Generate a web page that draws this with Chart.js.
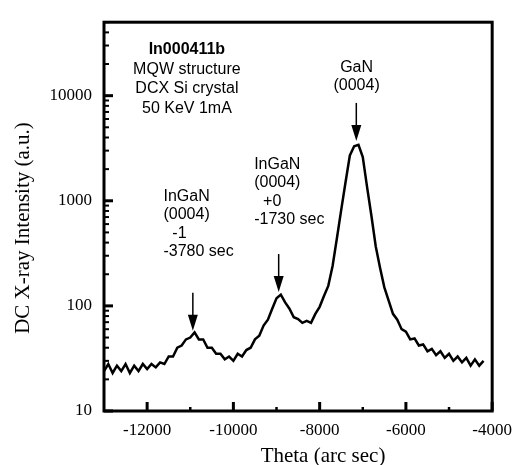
<!DOCTYPE html>
<html>
<head>
  <title>DC X-ray rocking curve</title>
  <style>
    body { margin: 0; background: #fff; }
    canvas { display: block; }
  </style>
</head>
<body>
  <canvas id="xrd-chart" width="521" height="465"></canvas>

  <script src="https://cdn.jsdelivr.net/npm/chart.js"></script>
  <script>
    // Theta positions (arc sec) of the scan
    const theta = [-13000, -12900, -12800, -12700, -12600, -12500, -12400, -12300, -12200, -12100,
      -12000, -11900, -11800, -11700, -11600, -11500, -11400, -11300, -11200, -11100,
      -11000, -10900, -10800, -10700, -10600, -10500, -10400, -10300, -10200, -10100,
      -10000, -9900, -9800, -9700, -9600, -9500, -9400, -9300, -9200, -9100,
      -9000, -8900, -8800, -8700, -8600, -8500, -8400, -8300, -8200, -8100,
      -8000, -7900, -7800, -7700, -7600, -7500, -7400, -7300, -7200, -7100,
      -7000, -6900, -6800, -6700, -6600, -6500, -6400, -6300, -6200, -6100,
      -6000, -5900, -5800, -5700, -5600, -5500, -5400, -5300, -5200, -5100,
      -5000, -4900, -4800, -4700, -4600, -4500, -4400, -4300, -4200];

    // DC X-ray intensity (a.u.), noise included
    const intensity = [24, 28, 23, 27, 24, 28, 23, 27, 24, 28,
      25, 28, 26, 29, 28, 33, 33, 40, 42, 48,
      50, 56, 48, 48, 40, 40, 35, 35, 31, 33,
      30, 35, 33, 38, 40, 48, 52, 65, 74, 94,
      118, 128, 108, 94, 78, 75, 69, 72, 69, 84,
      98, 124, 155, 240, 440, 820, 1500, 2700, 3300, 3400,
      2600, 1350, 720, 370, 230, 150, 112, 84, 74, 60,
      57, 48, 49, 42, 43, 37, 39, 34, 37, 32,
      35, 30, 33, 29, 32, 27, 31, 27, 30];

    // axis ticks
    const xTickLabels = [-12000, -10000, -8000, -6000, -4000];
    const xMinorTicks = [-11000, -9000, -7000, -5000];
    const yTickLabels = [10, 100, 1000, 10000];

    // peaks marked with arrows
    const arrowTheta = [-10940, -8950, -7150];
    const arrowIntensity = [53, 124, 3400];

    // annotation texts
    const infoLines = ['In000411b', 'MQW structure', 'DCX Si crystal', '50 KeV 1mA'];
    const peakLabels = [
      ['InGaN', '(0004)', '  -1', '-3780 sec'],
      ['InGaN', '(0004)', '  +0', '-1730 sec'],
      ['GaN', '(0004)']
    ];

    const serif = "'Liberation Serif', 'Times New Roman', serif";
    const sans = "'Liberation Sans', Arial, sans-serif";

    // frame, inward ticks, arrows and labels
    const decorations = {
      id: 'decorations',
      afterDatasetsDraw(chart) {
        const ctx = chart.ctx;
        const xs = chart.scales.x;
        const ys = chart.scales.y;
        const ca = chart.chartArea;
        ctx.save();
        ctx.strokeStyle = '#000';
        ctx.fillStyle = '#000';

        // inward ticks
        ctx.lineWidth = 3;
        xTickLabels.forEach(v => {
          const px = xs.getPixelForValue(v);
          ctx.beginPath(); ctx.moveTo(px, ca.bottom); ctx.lineTo(px, ca.bottom - 9); ctx.stroke();
        });
        ctx.lineWidth = 2.5;
        xMinorTicks.forEach(v => {
          const px = xs.getPixelForValue(v);
          ctx.beginPath(); ctx.moveTo(px, ca.bottom); ctx.lineTo(px, ca.bottom - 4); ctx.stroke();
        });
        ctx.lineWidth = 3;
        yTickLabels.forEach(v => {
          const py = ys.getPixelForValue(v);
          ctx.beginPath(); ctx.moveTo(ca.left, py); ctx.lineTo(ca.left + 9, py); ctx.stroke();
        });
        ctx.lineWidth = 2;
        yTickLabels.forEach(d => {
          for (let m = 2; m <= 9; m++) {
            const v = d * m;
            if (v > ys.max) break;
            const py = ys.getPixelForValue(v);
            ctx.beginPath(); ctx.moveTo(ca.left, py); ctx.lineTo(ca.left + 5, py); ctx.stroke();
          }
        });

        // frame
        ctx.lineWidth = 3;
        ctx.strokeRect(ca.left, ca.top, ca.right - ca.left, ca.bottom - ca.top);

        // arrows
        ctx.lineWidth = 1.5;
        arrowTheta.forEach((t, i) => {
          const px = xs.getPixelForValue(t);
          const tip = ys.getPixelForValue(arrowIntensity[i]) - 4;
          ctx.beginPath(); ctx.moveTo(px, tip - 38); ctx.lineTo(px, tip - 14); ctx.stroke();
          ctx.beginPath();
          ctx.moveTo(px, tip);
          ctx.lineTo(px - 5, tip - 16);
          ctx.lineTo(px + 5, tip - 16);
          ctx.closePath();
          ctx.fill();
        });

        // annotation text
        ctx.textBaseline = 'middle';
        let px = xs.getPixelForValue(-11078);
        let py = ys.getPixelForValue(27400);
        ctx.textAlign = 'center';
        infoLines.forEach((s, i) => {
          ctx.font = (i === 0 ? 'bold ' : '') + '16px ' + sans;
          ctx.fillText(s, px, py + i * 19.5);
        });

        ctx.font = '16px ' + sans;
        ctx.textAlign = 'left';
        px = xs.getPixelForValue(-11621);
        py = ys.getPixelForValue(1097);
        peakLabels[0].forEach((s, i) => ctx.fillText(s, px, py + i * 18.5));
        px = xs.getPixelForValue(-9518);
        py = ys.getPixelForValue(2228);
        peakLabels[1].forEach((s, i) => ctx.fillText(s, px, py + i * 18.5));
        ctx.textAlign = 'center';
        px = xs.getPixelForValue(-7143);
        py = ys.getPixelForValue(18600);
        peakLabels[2].forEach((s, i) => ctx.fillText(s, px, py + i * 18.5));

        // axis titles
        ctx.font = '21px ' + serif;
        ctx.fillText('Theta (arc sec)', 323, 456);
        ctx.translate(23, 228);
        ctx.rotate(-Math.PI / 2);
        ctx.fillText('DC X-ray Intensity (a.u.)', 0, 0);
        ctx.restore();
      }
    };

    const ctx = document.getElementById('xrd-chart').getContext('2d');
    new Chart(ctx, {
      type: 'scatter',
      data: {
        datasets: [{
          data: theta.map((t, i) => ({ x: t, y: intensity[i] })),
          showLine: true,
          borderColor: '#000',
          borderWidth: 2.5,
          pointRadius: 0,
          tension: 0
        }]
      },
      options: {
        responsive: false,
        animation: false,
        layout: { padding: { top: 14, right: 19, left: 0, bottom: 0 } },
        plugins: { legend: { display: false }, tooltip: { enabled: false } },
        scales: {
          x: {
            type: 'linear',
            min: -13000,
            max: -4000,
            afterBuildTicks: s => { s.ticks = xTickLabels.map(v => ({ value: v })); },
            afterFit: s => { s.height = 54; },
            grid: { display: false, drawTicks: false },
            border: { display: false },
            ticks: {
              padding: 9,
              color: '#000',
              maxRotation: 0,
              autoSkip: false,
              font: { family: serif, size: 17 },
              callback: v => String(v)
            }
          },
          y: {
            type: 'logarithmic',
            min: 10,
            max: 50000,
            afterBuildTicks: s => { s.ticks = yTickLabels.map(v => ({ value: v })); },
            afterFit: s => { s.width = 104; },
            grid: { display: false, drawTicks: false },
            border: { display: false },
            ticks: {
              padding: 12,
              color: '#000',
              autoSkip: false,
              font: { family: serif, size: 17 },
              callback: v => String(v)
            }
          }
        }
      },
      plugins: [decorations]
    });
  </script>
</body>
</html>
